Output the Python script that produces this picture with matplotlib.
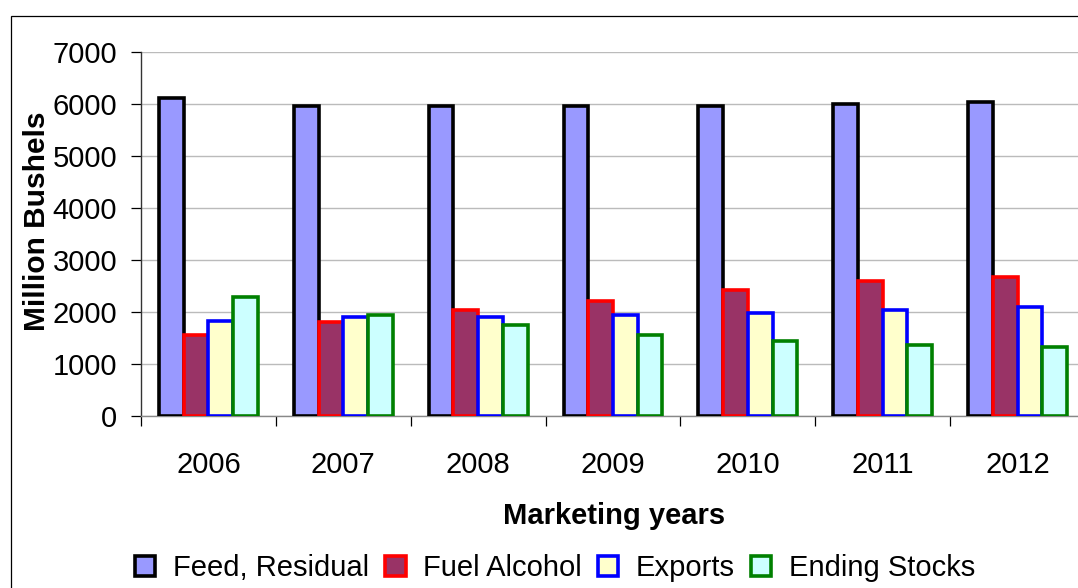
import matplotlib
matplotlib.use("Agg")
import matplotlib.pyplot as plt
from matplotlib.patches import Rectangle
import numpy as np

plt.rcParams['font.family'] = ['Liberation Sans', 'DejaVu Sans']

years = ['2006', '2007', '2008', '2009', '2010', '2011', '2012']
series_names = ['Feed, Residual', 'Fuel Alcohol', 'Exports', 'Ending Stocks']
feed_residual = [6110, 5965, 5965, 5965, 5965, 6000, 6040]
fuel_alcohol = [1565, 1800, 2030, 2220, 2415, 2605, 2680]
exports = [1835, 1910, 1910, 1950, 1990, 2030, 2090]
ending_stocks = [2285, 1950, 1750, 1560, 1450, 1365, 1330]
y_ticks = [0, 1000, 2000, 3000, 4000, 5000, 6000, 7000]

fills = ['#9999FF', '#993366', '#FFFFCC', '#CCFFFF']
edges = ['#000000', '#FF0000', '#0000FF', '#008000']

W, H = 1078, 588
FS = 21
fig = plt.figure(figsize=(W / 100, H / 100), dpi=100)
fig.patch.set_facecolor('white')

# outer chart border
fig.add_artist(Rectangle((11 / W, -0.1), 1.2, 1 - 16 / H + 0.1, transform=fig.transFigure,
                         fill=False, edgecolor='black', linewidth=0.9))

ax = fig.add_axes([141 / W, 1 - 416 / H, (1085 - 141) / W, (416 - 52) / H])

x = np.arange(len(years))
w = 0.183
data = [feed_residual, fuel_alcohol, exports, ending_stocks]
for i, (vals, fc, ec, name) in enumerate(zip(data, fills, edges, series_names)):
    ax.bar(x + (i - 1.5) * w, vals, width=w, color=fc, edgecolor=ec, linewidth=2.6,
           label=name, zorder=3)

ax.set_xlim(-0.5, len(years) - 0.5)
ax.set_ylim(0, 7000)
ax.set_yticks(y_ticks)
ax.set_yticklabels([str(v) for v in y_ticks])
ax.yaxis.grid(True, color='#BBBBBB', linewidth=1.0, zorder=0)
ax.set_axisbelow(True)

ax.set_xticks(x)
ax.set_xticklabels(years)
ax.set_xticks(np.arange(len(years) + 1) - 0.5, minor=True)
ax.tick_params(axis='x', which='major', length=0, pad=25, labelsize=FS)
ax.tick_params(axis='x', which='minor', length=7.2, width=0.9, direction='out', color='black')
ax.tick_params(axis='y', length=7.2, width=0.9, direction='out', pad=10, labelsize=FS)

for s in ['top', 'right']:
    ax.spines[s].set_visible(False)
ax.spines['left'].set_color('#333333')
ax.spines['left'].set_linewidth(1.0)
ax.spines['bottom'].set_color('#888888')
ax.spines['bottom'].set_linewidth(1.0)

fig.text(37 / W, 1 - 221 / H, 'Million Bushels', rotation=90, ha='center', va='center',
         fontsize=FS + 0.5, fontweight='bold')
fig.text(614 / W, 1 - 516 / H, 'Marketing years', ha='center', va='center',
         fontsize=FS, fontweight='bold')

leg = fig.legend(loc='center', bbox_to_anchor=(555 / W, 1 - 568 / H), ncol=4, frameon=False,
                 fontsize=FS, handlelength=0.7, handleheight=0.7, handletextpad=0.6,
                 columnspacing=0.55, borderpad=0, borderaxespad=0)

fig.savefig('out.png', dpi=100)
